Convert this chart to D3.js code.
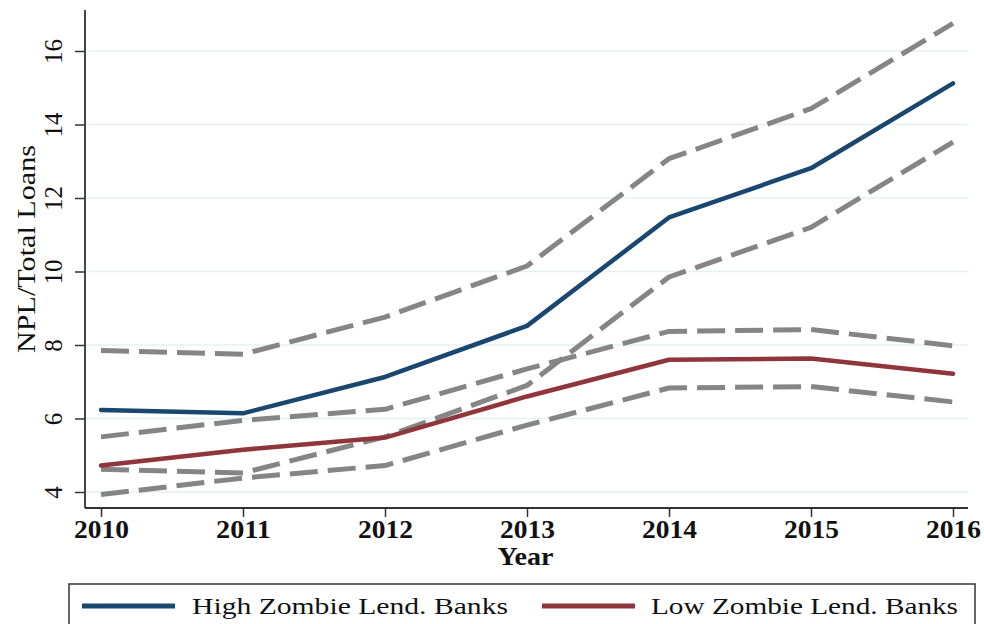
<!DOCTYPE html>
<html>
<head>
<meta charset="utf-8">
<script src="https://cdn.jsdelivr.net/npm/d3@7"></script>
<style>
  html, body { margin: 0; padding: 0; background: #fff; }
  svg { display: block; }
  text { font-family: "Liberation Serif", "DejaVu Serif", serif; fill: #111; }
</style>
</head>
<body>
<svg id="chart" width="984" height="624"></svg>
<script>
const years = [2010, 2011, 2012, 2013, 2014, 2015, 2016];
const highMean  = [6.23, 6.14, 7.13, 8.52, 11.47, 12.81, 15.12];
const highUpper = [7.85, 7.75, 8.76, 10.15, 13.07, 14.43, 16.75];
const highLower = [4.62, 4.52, 5.50, 6.90, 9.85, 11.20, 13.52];
const lowMean   = [4.72, 5.15, 5.48, 6.60, 7.60, 7.63, 7.22];
const lowUpper  = [5.50, 5.95, 6.25, 7.35, 8.37, 8.42, 7.98];
const lowLower  = [3.93, 4.38, 4.72, 5.82, 6.83, 6.87, 6.45];
const yTicks = [4, 6, 8, 10, 12, 14, 16];
const legendLabels = ["High Zombie Lend. Banks", "Low Zombie Lend. Banks"];
const xTitle = "Year";
const yTitle = "NPL/Total Loans";

const svg = d3.select("#chart");
const x = d3.scaleLinear().domain([2010, 2016]).range([101, 953]);
const y = d3.scaleLinear().domain([4, 16]).range([492, 51]);
const axisX0 = 85, axisY0 = 508, plotRight = 968, plotTop = 10;

// gridlines
svg.append("g").selectAll("line").data(yTicks).join("line")
  .attr("x1", axisX0 + 1).attr("x2", plotRight)
  .attr("y1", d => y(d)).attr("y2", d => y(d))
  .attr("stroke", "#e6f0f2").attr("stroke-width", 1.5);

// axes
const yAxis = svg.append("g").attr("transform", `translate(${axisX0},0)`)
  .call(d3.axisLeft(y).tickValues(yTicks).tickSize(10).tickFormat(d3.format("d")));
yAxis.select(".domain").remove();
yAxis.selectAll(".tick line").attr("stroke", "#333").attr("stroke-width", 1.5);
yAxis.selectAll(".tick text").remove();
yAxis.selectAll(".tick").append("text")
  .attr("transform", "translate(-23,0) rotate(-90)")
  .attr("text-anchor", "middle")
  .style("font-size", "25px").style("fill", "#111")
  .text(d => d);

const xAxis = svg.append("g").attr("transform", `translate(0,${axisY0})`)
  .call(d3.axisBottom(x).tickValues(years).tickSize(9).tickFormat(d3.format("d")));
xAxis.select(".domain").remove();
xAxis.selectAll(".tick line").attr("stroke", "#333").attr("stroke-width", 1.5);
xAxis.selectAll(".tick text")
  .attr("y", 30).attr("dy", 0)
  .attr("textLength", 55).attr("lengthAdjust", "spacingAndGlyphs")
  .style("font-size", "25px").style("font-weight", "bold").style("fill", "#111");

svg.append("line").attr("x1", axisX0).attr("x2", axisX0).attr("y1", plotTop).attr("y2", axisY0)
  .attr("stroke", "#333").attr("stroke-width", 1.8);
svg.append("line").attr("x1", axisX0).attr("x2", plotRight).attr("y1", axisY0).attr("y2", axisY0)
  .attr("stroke", "#333").attr("stroke-width", 1.8);

// titles
svg.append("text").attr("x", 525.5).attr("y", 565).attr("text-anchor", "middle")
  .attr("textLength", 56).attr("lengthAdjust", "spacingAndGlyphs")
  .style("font-size", "25px").style("font-weight", "bold").text(xTitle);
svg.append("text").attr("transform", "translate(35,249) rotate(-90)").attr("text-anchor", "middle")
  .attr("textLength", 208).attr("lengthAdjust", "spacingAndGlyphs")
  .style("font-size", "25px").text(yTitle);

// lines
const line = d3.line().x((d, i) => x(years[i])).y(d => y(d));
const plot = svg.append("g");
[highUpper, highLower, lowUpper, lowLower].forEach(s => {
  plot.append("path").datum(s).attr("d", line)
    .attr("fill", "none").attr("stroke", "#858585").attr("stroke-width", 5)
    .attr("stroke-dasharray", "28,10").attr("stroke-linejoin", "round");
});
plot.append("path").datum(highMean).attr("d", line)
  .attr("fill", "none").attr("stroke", "#1a476f").attr("stroke-width", 4.5)
  .attr("stroke-linejoin", "round").attr("stroke-linecap", "round");
plot.append("path").datum(lowMean).attr("d", line)
  .attr("fill", "none").attr("stroke", "#90353b").attr("stroke-width", 4.5)
  .attr("stroke-linejoin", "round").attr("stroke-linecap", "round");

// legend
const lg = svg.append("g");
lg.append("rect").attr("x", 69).attr("y", 584).attr("width", 906).attr("height", 60)
  .attr("fill", "#fff").attr("stroke", "#333").attr("stroke-width", 1.5);
const legendColors = ["#1a476f", "#90353b"];
const legendX = [82, 542];
const legendTextX = [192, 651];
const legendTextW = [316, 307];
legendLabels.forEach((lab, i) => {
  lg.append("line").attr("x1", legendX[i]).attr("x2", legendX[i] + 93)
    .attr("y1", 606).attr("y2", 606)
    .attr("stroke", legendColors[i]).attr("stroke-width", 5);
  lg.append("text").attr("x", legendTextX[i]).attr("y", 614)
    .attr("textLength", legendTextW[i]).attr("lengthAdjust", "spacingAndGlyphs")
    .style("font-size", "24px").text(lab);
});
</script>
</body>
</html>
